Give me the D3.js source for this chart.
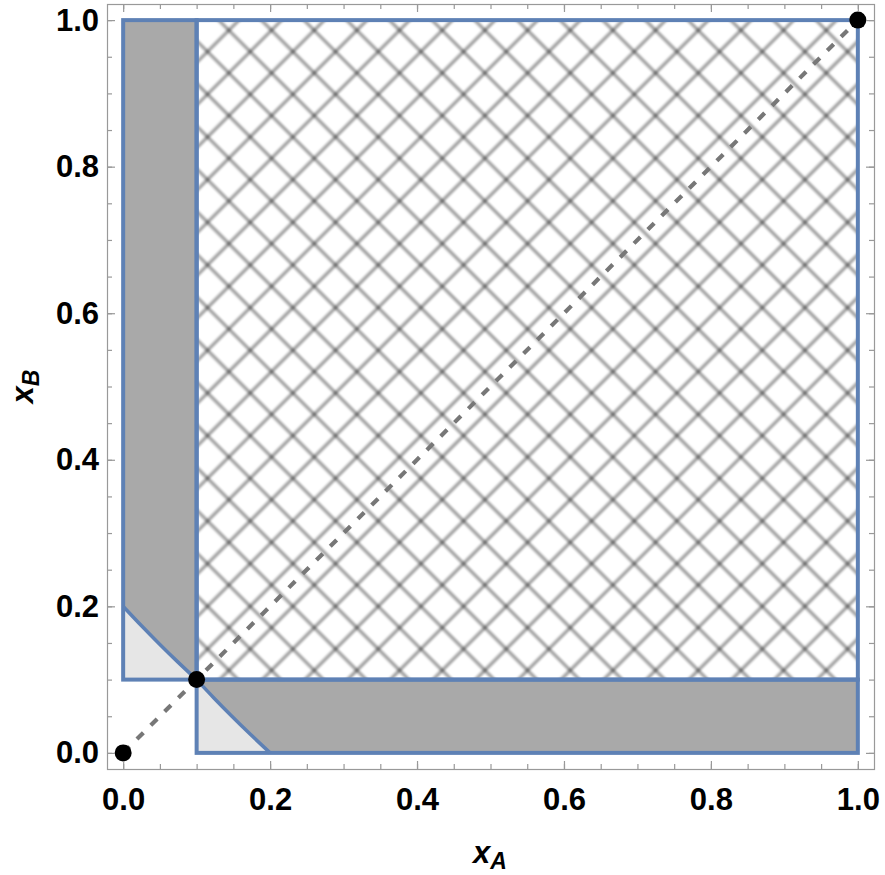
<!DOCTYPE html>
<html>
<head>
<meta charset="utf-8">
<script src="https://cdn.jsdelivr.net/npm/d3@7"></script>
<style>
  body { margin: 0; background: #fff; }
  svg { display: block; }
  .tick text { font-family: "Liberation Sans", Arial, sans-serif; font-weight: bold; }
</style>
</head>
<body>
<script>
var width = 885,
  height = 875;

// regions in data units: [x0, x1, y0, y1]
var darkBoxes = [[0, 0.1, 0.1, 1], [0.1, 1, 0, 0.1]];
var hatchBox = [0.1, 1, 0.1, 1];

// boundary curves of the light areas
var curveUpper = [[0, 0.2], [0.025, 0.1735], [0.05, 0.148], [0.075, 0.1235], [0.1, 0.1]];
var curveLower = [[0.1, 0.1], [0.1235, 0.075], [0.148, 0.05], [0.1735, 0.025], [0.2, 0]];
var lightCorners = [[0, 0.1], [0.1, 0]];

var diagonal = [[0, 0], [1, 1]];
var points = [[0, 0], [0.1, 0.1], [1, 1]];

var majorTicks = [0, 0.2, 0.4, 0.6, 0.8, 1.0];
var minorTicks = d3.range(0, 21).map(function(i) { return i / 20; });
var tickLabels = ["0.0", "0.2", "0.4", "0.6", "0.8", "1.0"];

var blue = "#5E81B5";

var x = d3.scaleLinear()
  .domain([-0.022, 1.022])
  .range([107, 874]);

var y = d3.scaleLinear()
  .domain([-0.022, 1.022])
  .range([769, 4]);

var svg = d3.select("body").append("svg")
  .attr("width", width)
  .attr("height", height);

var defs = svg.append("defs");

var blur = defs.append("filter")
  .attr("id", "soft")
  .attr("x", "-5%").attr("y", "-5%")
  .attr("width", "110%").attr("height", "110%");
blur.append("feGaussianBlur").attr("stdDeviation", 1);

// crosshatch: two families of diagonal lines
var s = 42.67 / Math.SQRT2;
var pat = defs.append("pattern")
  .attr("id", "hatch")
  .attr("patternUnits", "userSpaceOnUse")
  .attr("width", s)
  .attr("height", s)
  .attr("patternTransform", "rotate(45)");
pat.append("line")
  .attr("x1", 2.2).attr("x2", 2.2)
  .attr("y1", 0).attr("y2", s)
  .attr("stroke", "#000").attr("stroke-opacity", 0.36).attr("stroke-width", 3.4);
pat.append("line")
  .attr("x1", 0).attr("x2", s)
  .attr("y1", 10.44).attr("y2", 10.44)
  .attr("stroke", "#000").attr("stroke-opacity", 0.36).attr("stroke-width", 3.4);

function boxAttrs(sel) {
  sel.attr("x", function(d) { return x(d[0]); })
    .attr("y", function(d) { return y(d[3]); })
    .attr("width", function(d) { return x(d[1]) - x(d[0]); })
    .attr("height", function(d) { return y(d[2]) - y(d[3]); });
}

var plot = svg.append("g");

plot.selectAll("rect.dark")
  .data(darkBoxes)
  .enter().append("rect")
    .attr("class", "dark")
    .call(boxAttrs)
    .attr("fill", "#A9A9A9");

plot.append("rect")
  .datum(hatchBox)
  .call(boxAttrs)
  .attr("fill", "url(#hatch)")
  .attr("filter", "url(#soft)");

var line = d3.line()
  .x(function(d) { return x(d[0]); })
  .y(function(d) { return y(d[1]); })
  .curve(d3.curveMonotoneX);

var polyLine = d3.line()
  .x(function(d) { return x(d[0]); })
  .y(function(d) { return y(d[1]); });

plot.selectAll("path.light")
  .data([curveUpper.concat([lightCorners[0]]), curveLower.concat([lightCorners[1]])])
  .enter().append("path")
    .attr("class", "light")
    .attr("d", function(d) { return polyLine(d) + "Z"; })
    .attr("fill", "#E6E6E6");

// outlines
plot.selectAll("rect.outline")
  .data(darkBoxes.concat([hatchBox]))
  .enter().append("rect")
    .attr("class", "outline")
    .call(boxAttrs)
    .attr("fill", "none")
    .attr("stroke", blue)
    .attr("stroke-width", 4);

plot.selectAll("path.curve")
  .data([curveUpper, curveLower])
  .enter().append("path")
    .attr("class", "curve")
    .attr("d", line)
    .attr("fill", "none")
    .attr("stroke", blue)
    .attr("stroke-width", 3.5);

plot.append("path")
  .datum(diagonal)
  .attr("d", polyLine)
  .attr("fill", "none")
  .attr("stroke", "#777")
  .attr("stroke-width", 4.2)
  .attr("stroke-dasharray", "9,10.5");

plot.selectAll("circle")
  .data(points)
  .enter().append("circle")
    .attr("cx", function(d) { return x(d[0]); })
    .attr("cy", function(d) { return y(d[1]); })
    .attr("r", 8.5)
    .attr("fill", "#000");

// frame and ticks
var frame = svg.append("g");

function styleAxis(g) {
  g.select(".domain").remove();
  g.selectAll(".tick line").attr("stroke", "#999").attr("stroke-width", 1.2);
  g.selectAll(".tick text").attr("fill", "#000").attr("font-size", "31px");
}

var labelFmt = function(d) { return tickLabels[majorTicks.indexOf(d)]; };

frame.append("g")
  .attr("transform", "translate(0," + y.range()[0] + ")")
  .call(d3.axisBottom(x).tickValues(minorTicks).tickSize(-5).tickFormat(""))
  .call(styleAxis);
frame.append("g")
  .attr("transform", "translate(0," + y.range()[0] + ")")
  .call(d3.axisBottom(x).tickValues(majorTicks).tickSize(-8).tickPadding(19).tickFormat(labelFmt))
  .call(styleAxis);
frame.append("g")
  .attr("transform", "translate(0," + y.range()[1] + ")")
  .call(d3.axisTop(x).tickValues(minorTicks).tickSize(-5).tickFormat(""))
  .call(styleAxis);
frame.append("g")
  .attr("transform", "translate(0," + y.range()[1] + ")")
  .call(d3.axisTop(x).tickValues(majorTicks).tickSize(-8).tickFormat(""))
  .call(styleAxis);
frame.append("g")
  .attr("transform", "translate(" + x.range()[0] + ",0)")
  .call(d3.axisLeft(y).tickValues(minorTicks).tickSize(-5).tickFormat(""))
  .call(styleAxis);
frame.append("g")
  .attr("transform", "translate(" + x.range()[0] + ",0)")
  .call(d3.axisLeft(y).tickValues(majorTicks).tickSize(-8).tickPadding(8).tickFormat(labelFmt))
  .call(styleAxis);
frame.append("g")
  .attr("transform", "translate(" + x.range()[1] + ",0)")
  .call(d3.axisRight(y).tickValues(minorTicks).tickSize(-5).tickFormat(""))
  .call(styleAxis);
frame.append("g")
  .attr("transform", "translate(" + x.range()[1] + ",0)")
  .call(d3.axisRight(y).tickValues(majorTicks).tickSize(-8).tickFormat(""))
  .call(styleAxis);

frame.append("rect")
  .attr("x", x.range()[0] + 0.5)
  .attr("y", y.range()[1] + 0.5)
  .attr("width", x.range()[1] - x.range()[0])
  .attr("height", y.range()[0] - y.range()[1])
  .attr("fill", "none")
  .attr("stroke", "#999")
  .attr("stroke-width", 1.2);

// axis titles
var xTitle = svg.append("text")
  .attr("x", 490)
  .attr("y", 863)
  .attr("text-anchor", "middle")
  .attr("font-family", "Liberation Sans, Arial, sans-serif")
  .attr("font-weight", "bold")
  .attr("font-style", "italic")
  .attr("font-size", "31px");
xTitle.append("tspan").text("x");
xTitle.append("tspan").attr("dy", 6).attr("font-size", "23px").text("A");

var yTitle = svg.append("text")
  .attr("transform", "translate(33," + (y.range()[0] + y.range()[1]) / 2 + ") rotate(-90)")
  .attr("text-anchor", "middle")
  .attr("font-family", "Liberation Sans, Arial, sans-serif")
  .attr("font-weight", "bold")
  .attr("font-style", "italic")
  .attr("font-size", "31px");
yTitle.append("tspan").text("x");
yTitle.append("tspan").attr("dy", 6).attr("font-size", "23px").text("B");
</script>
</body>
</html>
